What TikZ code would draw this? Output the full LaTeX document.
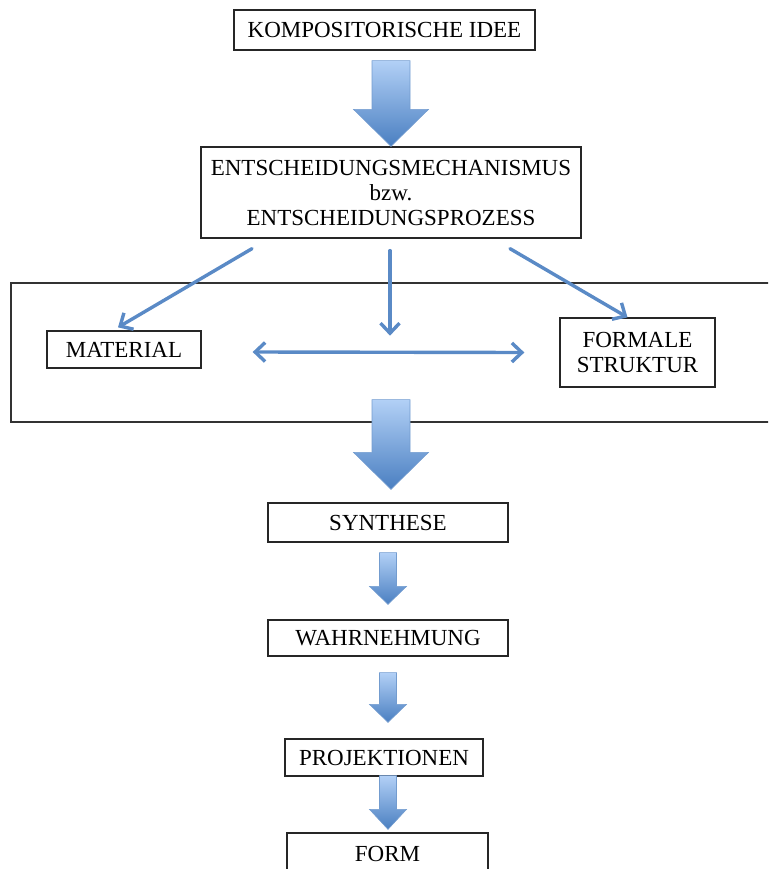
\documentclass[tikz,border=0pt]{standalone}
\usepackage{fontspec}
\setmainfont{Liberation Serif}
\usetikzlibrary{arrows.meta,calc}
\definecolor{pfeilblau}{HTML}{5A8AC6}
\definecolor{pfeilhell}{HTML}{B2D0F6}
\definecolor{pfeildunkel}{HTML}{4A7FC1}
\tikzset{
  kasten/.style={draw=black!85,line width=1.3pt,fill=white,inner sep=0pt,align=center,
    font=\fontsize{23}{25}\selectfont},
  rahmen/.style={draw=black!80,line width=1.3pt,inner sep=0pt},
  spitze/.tip={Straight Barb[length=10pt,width=19pt,line width=3.4pt]},
  duenn/.style={draw=pfeilblau,line width=3.4pt,line cap=round,-{spitze}},
  blockfarbe/.style={top color=pfeilhell,bottom color=pfeildunkel,draw=pfeilblau!85,line width=0.6pt}
}
% #1 top, #2 tip, #3 shaft half width, #4 head half width, #5 head length
\newcommand{\blockpfeil}[5]{%
\path[blockfarbe] let \p1=(#1), \p2=(#2) in
  (\x2-#3pt,\y1) -- (\x2+#3pt,\y1) -- (\x2+#3pt,\y2+#5pt) -- (\x2+#4pt,\y2+#5pt)
  -- (\x2,\y2) -- (\x2-#4pt,\y2+#5pt) -- (\x2-#3pt,\y2+#5pt) -- cycle;}
\begin{document}
\begin{tikzpicture}[x=1pt,y=-1pt]
\useasboundingbox (0,0) rectangle (768,869);
\clip (0,0) rectangle (768,869);
\node[rahmen,minimum width=769pt,minimum height=139pt] (ebene) at (395.5,352.5) {};
\node[kasten,minimum width=301pt,minimum height=40pt] (idee) at (384.5,30) {KOMPOSITORISCHE IDEE};
\node[kasten,minimum width=380pt,minimum height=91pt] (entsch) at (391,192.5)
  {ENTSCHEIDUNGSMECHANISMUS\\bzw.\\ENTSCHEIDUNGSPROZESS};
\node[kasten,minimum width=154pt,minimum height=37pt] (material) at (124,349.5) {MATERIAL};
\node[kasten,minimum width=155pt,minimum height=69pt] (formal) at (637.5,352.5) {FORMALE\\STRUKTUR};
\node[kasten,minimum width=240pt,minimum height=39pt] (synthese) at (388,522.5) {SYNTHESE};
\node[kasten,minimum width=240pt,minimum height=36pt] (wahr) at (388,638) {WAHRNEHMUNG};
\node[kasten,minimum width=198pt,minimum height=37pt] (proj) at (384,757.5) {PROJEKTIONEN};
\node[kasten,minimum width=201pt,minimum height=47pt,text depth=0pt] (form) at (387.5,856.5) {\raisebox{5pt}{FORM}};

\draw[duenn] ([shift={(-139,10)}]entsch.south) -- ([shift={(-6,-3)}]material.north);
\draw[duenn] ([shift={(-1,12)}]entsch.south) -- ++(0,85);
\draw[duenn] ([shift={(119,10)}]entsch.south) -- ([xshift=-10]formal.north);
\draw[duenn,{spitze}-{spitze}] ([shift={(51,2.5)}]material.east) -- ([shift={(-35,0)}]formal.west);

\blockpfeil{[shift={(6.5,10)}]idee.south}{entsch.north}{19}{37.5}{37}
\blockpfeil{[shift={(-4.5,-23)}]ebene.south}{[shift={(3,-13)}]synthese.north}{19}{37.5}{37}
\blockpfeil{[shift={(0,10)}]synthese.south}{[shift={(0,-15)}]wahr.north}{8.5}{18.5}{18}
\blockpfeil{[shift={(0,16)}]wahr.south}{[shift={(4,-16)}]proj.north}{8.5}{18.5}{18}
\blockpfeil{[shift={(4,-1)}]proj.south}{[shift={(0.5,-3)}]form.north}{8.5}{18.5}{20}
\end{tikzpicture}
\end{document}
